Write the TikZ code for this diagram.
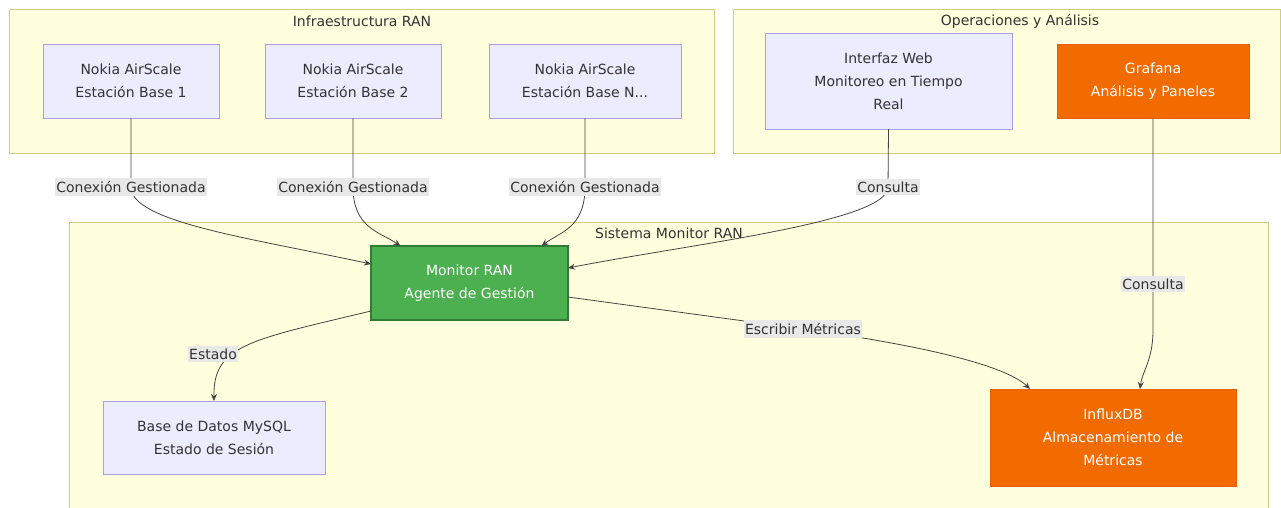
\documentclass[tikz,border=0pt]{standalone}
\usepackage{fontspec}
\setmainfont{DejaVu Sans}
\usetikzlibrary{arrows.meta}
\definecolor{clfill}{HTML}{FFFFDE}
\definecolor{cldraw}{HTML}{CDCD85}
\definecolor{ndfill}{HTML}{ECECFF}
\definecolor{nddraw}{HTML}{B09CE4}
\definecolor{txt}{HTML}{333333}
\definecolor{lblbg}{HTML}{E8E8E8}
\definecolor{grfill}{HTML}{4CAF50}
\definecolor{grdraw}{HTML}{2E7D32}
\definecolor{orfill}{HTML}{F26B00}
\definecolor{ordraw}{HTML}{E35F00}
\definecolor{edgec}{HTML}{444444}
\begin{document}
\begin{tikzpicture}[x=1pt,y=-1pt,
  every node/.style={font=\fontsize{14}{23}\selectfont, text=txt},
  cluster/.style={draw=cldraw, fill=clfill, line width=0.9pt, inner sep=0pt, outer sep=0pt},
  ctitle/.style={inner sep=0pt},
  box/.style={draw=nddraw, fill=ndfill, line width=0.9pt, align=center, inner sep=0pt, outer sep=0pt},
  green/.style={box, draw=grdraw, fill=grfill, line width=1.2pt, text=white},
  orange/.style={box, draw=ordraw, fill=orfill, text=white},
  lbl/.style={fill=lblbg, inner xsep=1pt, inner ysep=3pt},
  edge/.style={draw=edgec, line width=0.8pt, -{Stealth[length=7pt,width=6pt]}}
]
\useasboundingbox (0,0) rectangle (1281,507);
\clip (0,0) rectangle (1281,507);
\fill[white] (0,0) rectangle (1281,507);

% clusters
\node[cluster, minimum width=705pt, minimum height=144pt] (infra) at (361.5,81) {};
\node[ctitle] (tinfra) at (362,21) {Infraestructura RAN};
\node[cluster, minimum width=547pt, minimum height=144pt] (ops) at (1006.5,81) {};
\node[ctitle] (tops) at (1020,21) {Operaciones y Análisis};
\node[cluster, minimum width=1199pt, minimum height=300pt] (sys) at (668.5,372) {};
\node[ctitle] (tsys) at (669,233) {Sistema Monitor RAN};

% nodes
\node[box, minimum width=176pt, minimum height=74pt] (bs1) at (131,81) {Nokia AirScale\\Estación Base 1};
\node[box, minimum width=176pt, minimum height=74pt] (bs2) at (353,81) {Nokia AirScale\\Estación Base 2};
\node[box, minimum width=192pt, minimum height=74pt] (bsn) at (585,81) {Nokia AirScale\\Estación Base N...};
\node[box, minimum width=247pt, minimum height=96pt] (web) at (888.5,81) {Interfaz Web\\Monitoreo en Tiempo\\Real};
\node[orange, minimum width=192pt, minimum height=74pt] (graf) at (1153,81) {Grafana\\Análisis y Paneles};
\node[green, minimum width=197pt, minimum height=74pt] (mon) at (469.5,283) {Monitor RAN\\Agente de Gestión};
\node[box, minimum width=222pt, minimum height=73pt] (mysql) at (214,437.5) {Base de Datos MySQL\\Estado de Sesión};
\node[orange, minimum width=246pt, minimum height=97pt] (influx) at (1113,437.5) {InfluxDB\\Almacenamiento de\\Métricas};

% label positions
\coordinate (l1) at (131,187);
\coordinate (l2) at (353,187);
\coordinate (l3) at (585,187);
\coordinate (l4) at (888,187);
\coordinate (l5) at (1153,284);
\coordinate (l6) at (803,329);
\coordinate (l7) at (213,354);

% edges
\draw[edge] (bs1.south) -- (l1) .. controls (131,222) and (250,238) .. ([yshift=19pt]mon.west);
\draw[edge] (bs2.south) -- (l2) .. controls (353,228) and (380,232) .. ([xshift=-69pt]mon.north);
\draw[edge] (bsn.south) -- (l3) .. controls (585,228) and (560,232) .. ([xshift=72pt]mon.north);
\draw[edge] (web.south) -- (l4) .. controls (888,222) and (690,244) .. ([yshift=15pt]mon.east);
\draw[edge] (graf.south) -- (l5) -- (1153,330) .. controls (1153,360) and (1142,372) .. ([xshift=27pt]influx.north);
\draw[edge] ([yshift=-14pt]mon.east) -- (l6) .. controls (920,345) and (1005,365) .. ([xshift=-83pt]influx.north);
\draw[edge] ([yshift=-28pt]mon.west) .. controls (250,340) and (213,345) .. (mysql.north);

% labels
\node[lbl] (e1) at (l1) {Conexión Gestionada};
\node[lbl] (e2) at (l2) {Conexión Gestionada};
\node[lbl] (e3) at (l3) {Conexión Gestionada};
\node[lbl] (e4) at (l4) {Consulta};
\node[lbl] (e5) at (l5) {Consulta};
\node[lbl] (e6) at (l6) {Escribir Métricas};
\node[lbl] (e7) at (l7) {Estado};
\end{tikzpicture}
\end{document}
